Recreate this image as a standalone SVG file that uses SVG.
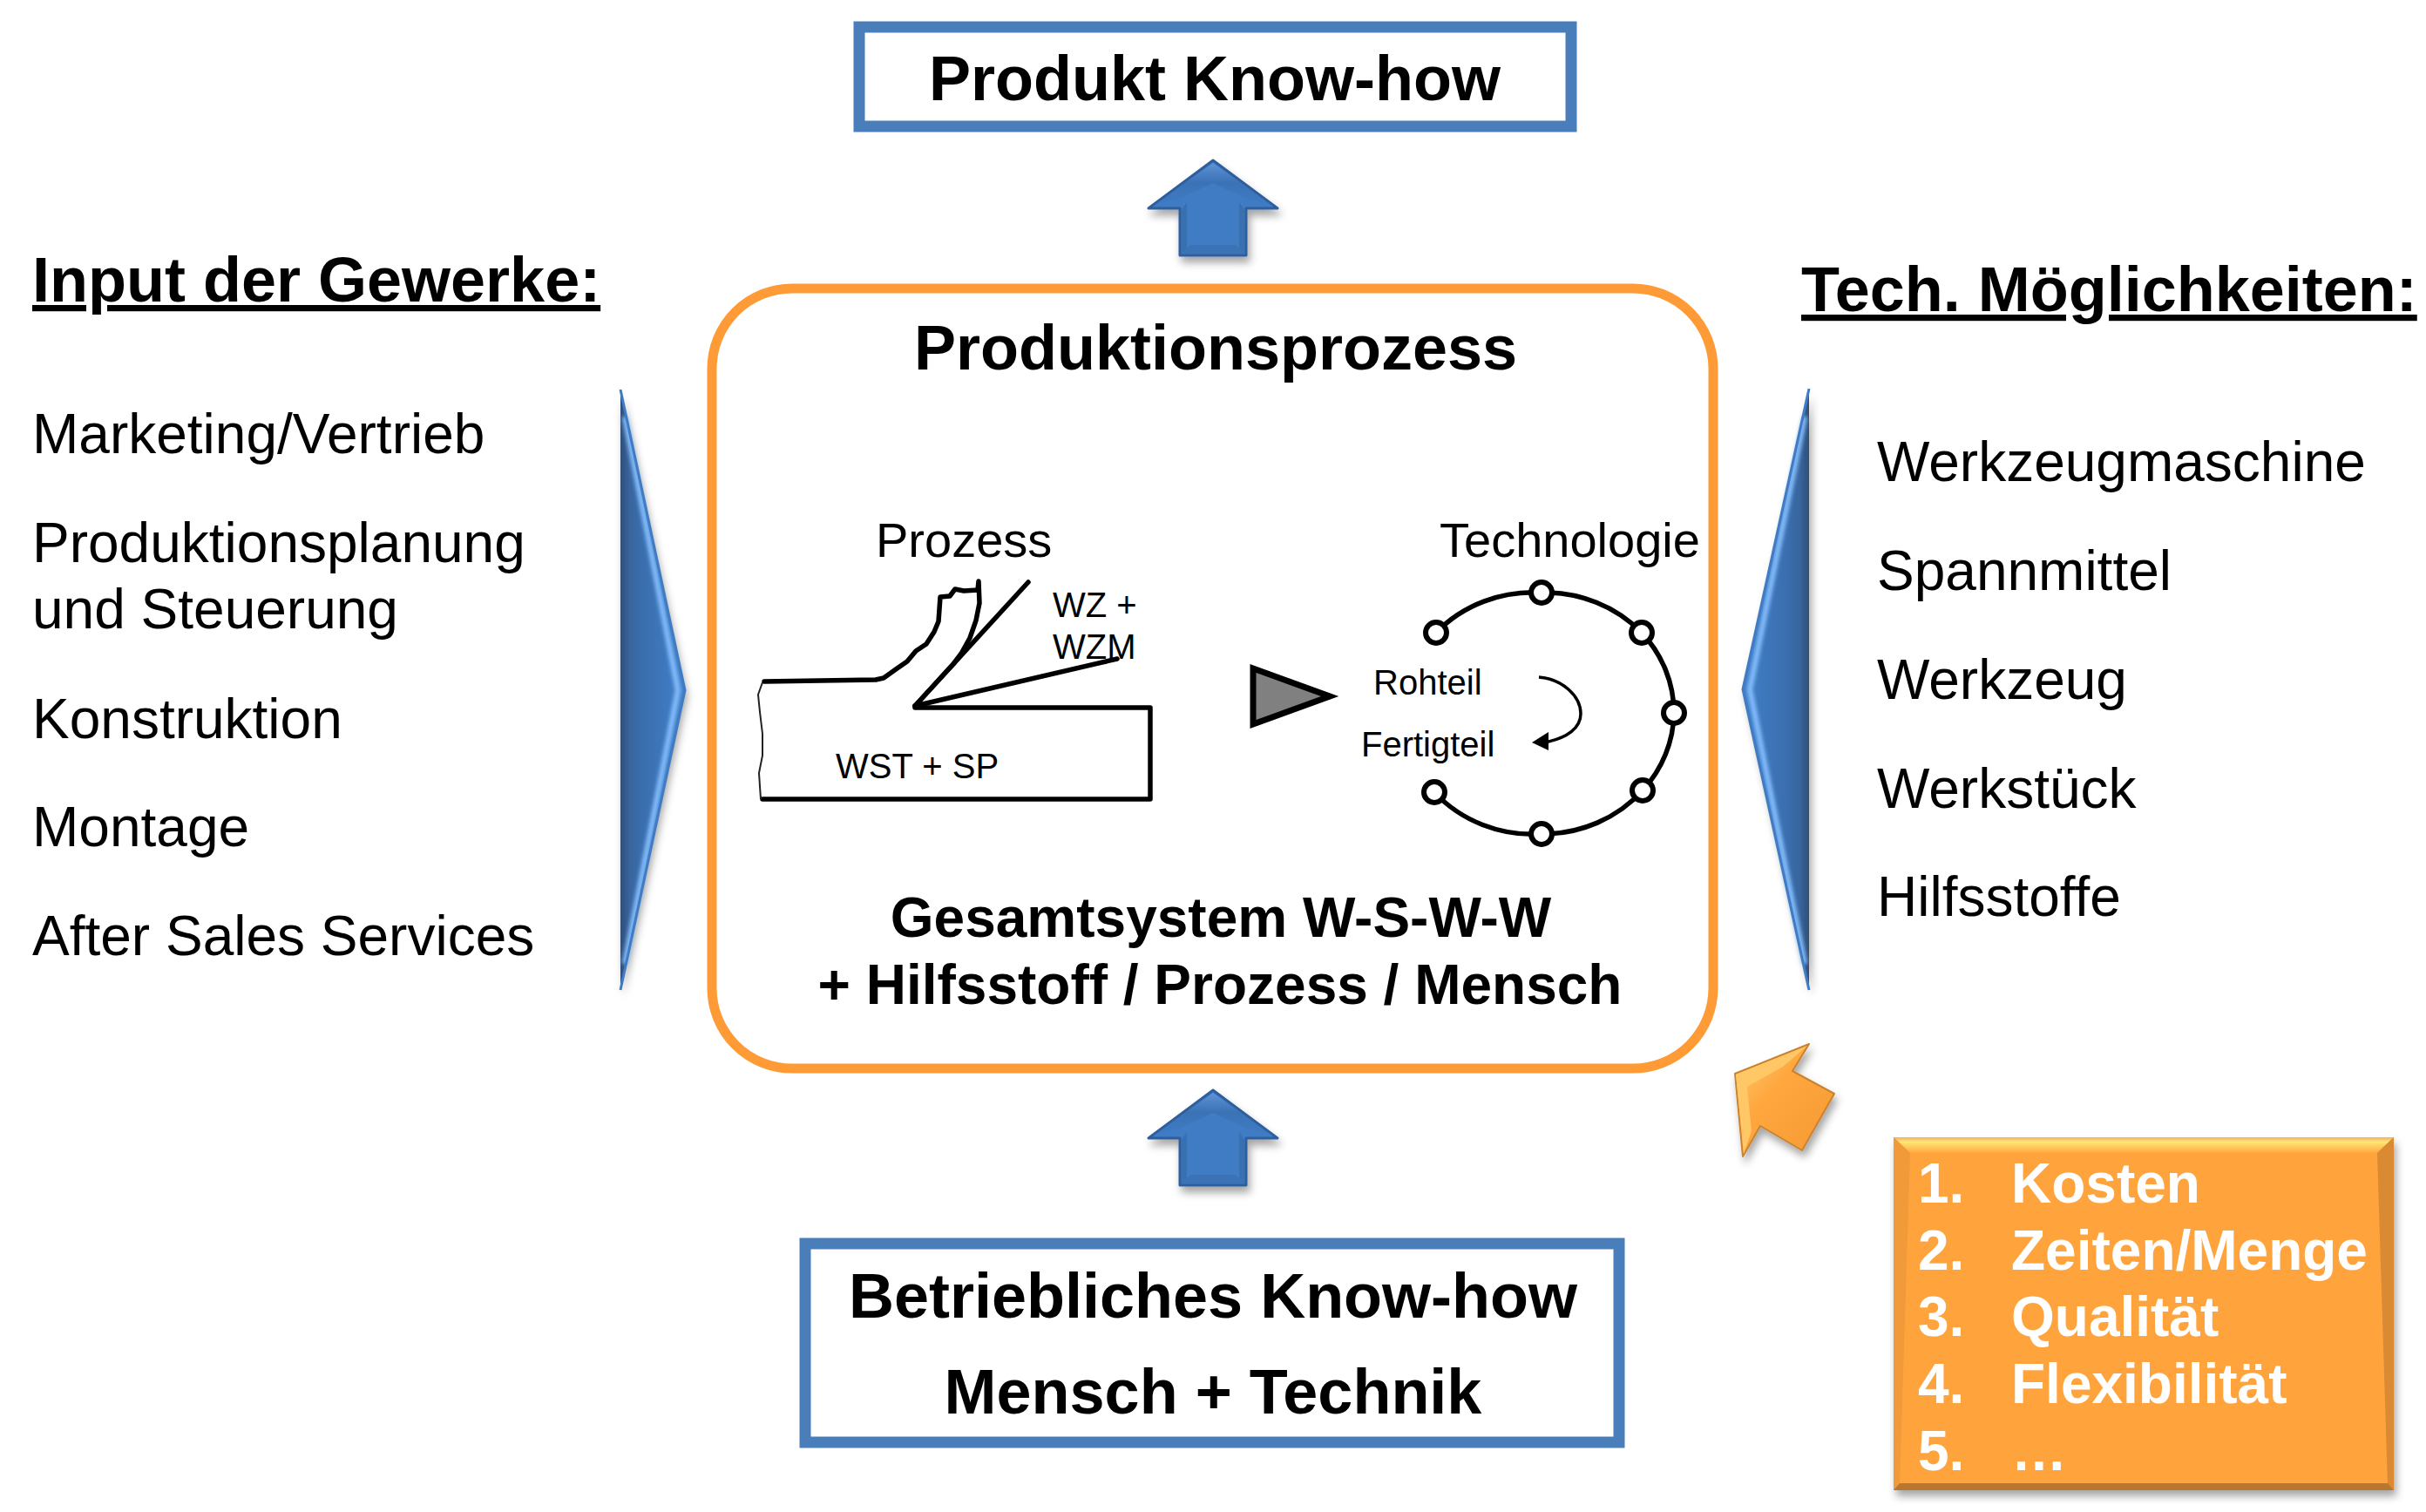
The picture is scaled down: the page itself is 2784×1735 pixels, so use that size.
<svg xmlns="http://www.w3.org/2000/svg" width="2784" height="1735" viewBox="0 0 2784 1735">
<style>
text{font-family:"Liberation Sans",Arial,sans-serif;fill:#000}
.h{font-weight:700;font-size:72px}
.hm{text-anchor:middle}
.u{text-decoration:underline}
.l{font-size:64px}
.b{font-weight:700;font-size:64px}
.s{font-size:40px}
.m{font-size:56px}
.w{font-weight:700;font-size:64px;fill:#fff}
.box{fill:#fff;stroke:#4a7ebb;stroke-width:13}
.ink{fill:none;stroke:#000;stroke-width:5.5;stroke-linejoin:round;stroke-linecap:round}
.thin{fill:none;stroke:#222;stroke-width:2}
.dot{fill:#fff;stroke:#000;stroke-width:6}
</style>
<defs>
<filter id="sh" x="-30%" y="-30%" width="160%" height="160%"><feDropShadow dx="3" dy="7" stdDeviation="5" flood-color="#000" flood-opacity=".35"/></filter>
<filter id="bl" x="-30%" y="-10%" width="160%" height="120%"><feGaussianBlur stdDeviation="2"/></filter>
<linearGradient id="tl" x1="0" x2="1" y1="0" y2="0"><stop offset="0" stop-color="#2f4f78"/><stop offset=".14" stop-color="#38659c"/><stop offset=".3" stop-color="#3a6dac"/><stop offset="1" stop-color="#4180ca"/></linearGradient>
<linearGradient id="tr" x1="1" x2="0" y1="0" y2="0"><stop offset="0" stop-color="#2f4f78"/><stop offset=".14" stop-color="#38659c"/><stop offset=".3" stop-color="#3a6dac"/><stop offset="1" stop-color="#4180ca"/></linearGradient>
<linearGradient id="up" x1="0" x2="0" y1="0" y2="1"><stop offset="0" stop-color="#5e93d4"/><stop offset=".45" stop-color="#3a72b6"/><stop offset="1" stop-color="#3f7cc4"/></linearGradient>
<linearGradient id="top" x1="0" x2="0" y1="0" y2="1"><stop offset="0" stop-color="#f2b060"/><stop offset=".3" stop-color="#ffe676"/><stop offset="1" stop-color="#ffa83f"/></linearGradient>
<linearGradient id="oa" x1="0" x2="1" y1="0" y2="1"><stop offset="0" stop-color="#ffcf72"/><stop offset=".4" stop-color="#ffa63e"/><stop offset="1" stop-color="#f59a34"/></linearGradient>
<g id="arrowUp">
<polygon points="0,0 74,55 38,55 38,109 -38,109 -38,55 -74,55" fill="#3f7cc4" stroke="#2f5f9c" stroke-width="3" stroke-linejoin="round"/>
<polygon points="0,3 69,53 38,44 0,26 -38,44 -69,53" fill="url(#up)"/>
<polygon points="-36,57 -36,107 -30,101 -30,48" fill="#3a70b0"/>
<polygon points="36,57 36,107 30,101 30,48" fill="#3a70b0"/>
<polygon points="-36,107 36,107 26,97 -26,97" fill="#3b73b6"/>
</g>
</defs>
<rect width="2784" height="1735" fill="#fff"/>

<g id="connectors">
<use href="#arrowUp" x="1392" y="184" filter="url(#sh)"/>
<use href="#arrowUp" x="1392" y="1251" filter="url(#sh)"/>
<g id="arrow-left">
<polygon points="712,447 786,792 712,1136" fill="url(#tl)" filter="url(#sh)"/>
<path d="M717,478 L778,792 L717,1106" fill="none" stroke="#86c0ff" stroke-width="6" filter="url(#bl)"/>
<path d="M712,447 L786,792 L712,1136" fill="none" stroke="#3f7cc4" stroke-width="3"/>
</g>
<g id="arrow-right">
<polygon points="2076,446 2000,791 2076,1136" fill="url(#tr)" filter="url(#sh)"/>
<path d="M2071,478 L2008,791 L2071,1106" fill="none" stroke="#86c0ff" stroke-width="6" filter="url(#bl)"/>
<path d="M2076,446 L2000,791 L2076,1136" fill="none" stroke="#3f7cc4" stroke-width="3"/>
</g>
<g id="arrow-orange">
<polygon points="2076,1198 1991,1232 2000,1327 2020,1292 2068,1320 2105,1255 2057,1229" fill="url(#oa)" stroke="#c9822f" stroke-width="2" stroke-linejoin="round" filter="url(#sh)"/>
<polygon points="1992,1233 2074,1200 2046,1224 2005,1247 2010,1298 2001,1324" fill="#ffc766"/>
</g>
</g>

<g id="node-produkt">
<rect class="box" x="986" y="31" width="817" height="114"/>
<text class="h hm" x="1394" y="115">Produkt Know-how</text>
</g>

<g id="node-input">
<text class="h u" x="37" y="346">Input der Gewerke:</text>
<text class="l" x="37" y="520">Marketing/Vertrieb</text>
<text class="l" x="37" y="645">Produktionsplanung</text>
<text class="l" x="37" y="721">und Steuerung</text>
<text class="l" x="37" y="847">Konstruktion</text>
<text class="l" x="37" y="971">Montage</text>
<text class="l" x="37" y="1096">After Sales Services</text>
</g>

<g id="node-tech">
<text class="h u" x="2067" y="357">Tech. Möglichkeiten:</text>
<text class="l" x="2154" y="552">Werkzeugmaschine</text>
<text class="l" x="2154" y="677">Spannmittel</text>
<text class="l" x="2154" y="802">Werkzeug</text>
<text class="l" x="2154" y="927">Werkstück</text>
<text class="l" x="2154" y="1051">Hilfsstoffe</text>
</g>

<g id="node-prozess">
<rect x="817" y="331" width="1149" height="895" rx="92" ry="92" fill="#fff" stroke="#ff9b37" stroke-width="11"/>
<text class="h hm" x="1395" y="424">Produktionsprozess</text>
<text class="m" x="1005" y="639">Prozess</text>
<text class="m" x="1652" y="639">Technologie</text>
<text class="s" x="1208" y="708">WZ +</text>
<text class="s" x="1208" y="756">WZM</text>
<text class="s" x="959" y="893">WST + SP</text>
<path class="ink" d="M877,782 L1005,780 L1014,778 L1028,768 L1041,759 L1051,747 L1063,739 L1072,725 L1077,713 L1079,685 L1090,684 L1096,676 L1106,678 L1122,677 L1123,667 L1124,692 L1120,712 L1113,732 L1103,750 L1094,762 L1050,810"/>
<path class="ink" d="M1050,810 L1180,668"/>
<path class="ink" d="M1050,810 L1282,756"/>
<path class="ink" d="M1050,812 L1320,812 L1320,917 L875,917"/>
<path class="thin" d="M875,783 L870,797 L872,817 L875,842 L875,867 L871,887 L873,917"/>
<polygon points="1438,767 1526,799 1438,831" fill="#808080" stroke="#000" stroke-width="7"/>
<path class="ink" d="M1648,726 A150 140 0 0 1 1769,680 A150 140 0 0 1 1884,726 A150 140 0 0 1 1921,818 A150 140 0 0 1 1885,907 A150 140 0 0 1 1769,957 A150 140 0 0 1 1646,909"/>
<circle class="dot" cx="1648" cy="726" r="12"/>
<circle class="dot" cx="1769" cy="680" r="12"/>
<circle class="dot" cx="1884" cy="726" r="12"/>
<circle class="dot" cx="1921" cy="818" r="12"/>
<circle class="dot" cx="1885" cy="907" r="12"/>
<circle class="dot" cx="1769" cy="957" r="12"/>
<circle class="dot" cx="1646" cy="909" r="12"/>
<text class="s" x="1576" y="797">Rohteil</text>
<text class="s" x="1562" y="868">Fertigteil</text>
<path d="M1766,777 C1793,779 1814,799 1814,819 C1814,835 1799,847 1772,852" fill="none" stroke="#000" stroke-width="3.5"/>
<polygon points="1758,852 1777,840 1777,861" fill="#000"/>
<text class="b hm" x="1401" y="1075">Gesamtsystem W-S-W-W</text>
<text class="b hm" x="1400" y="1152">+ Hilfsstoff / Prozess / Mensch</text>
</g>

<g id="node-betrieb">
<rect class="box" x="924" y="1427" width="934" height="228"/>
<text class="h hm" x="1392" y="1512">Betriebliches Know-how</text>
<text class="h hm" x="1392" y="1622">Mensch + Technik</text>
</g>

<g id="node-kriterien">
<g filter="url(#sh)"><rect x="2173" y="1305" width="574" height="405" fill="#ffa33c"/></g>
<polygon points="2173,1305 2747,1305 2728,1323 2192,1323" fill="url(#top)"/>
<polygon points="2173,1305 2192,1323 2180,1704 2173,1710" fill="#f19a39"/>
<polygon points="2747,1305 2728,1323 2740,1704 2747,1710" fill="#d98a33"/>
<polygon points="2173,1710 2747,1710 2740,1702 2180,1702" fill="#b9772e"/>
<text class="w" x="2201" y="1380">1.</text><text class="w" x="2308" y="1380">Kosten</text>
<text class="w" x="2201" y="1457">2.</text><text class="w" x="2308" y="1457">Zeiten/Menge</text>
<text class="w" x="2201" y="1533">3.</text><text class="w" x="2308" y="1533">Qualität</text>
<text class="w" x="2201" y="1610">4.</text><text class="w" x="2308" y="1610">Flexibilität</text>
<text class="w" x="2201" y="1687">5.</text><text class="w" x="2308" y="1687">…</text>
</g>
</svg>
